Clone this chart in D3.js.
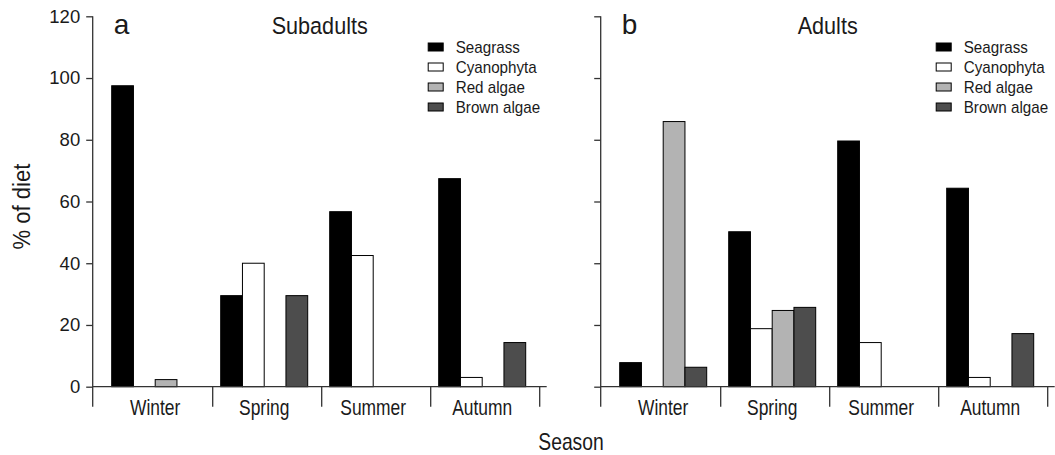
<!DOCTYPE html>
<meta charset="utf-8">

<!-- Load d3.js -->
<script src="https://d3js.org/d3.v7.min.js"></script>

<body style="margin:0">
<svg id="my_dataviz" width="1055" height="455"></svg>

<script>
    // Categories and series
    const seasons = ["Winter", "Spring", "Summer", "Autumn"];
    const foods = ["Seagrass", "Cyanophyta", "Red algae", "Brown algae"];
    const fills = ["#000000", "#ffffff", "#b3b3b3", "#4d4d4d"];
    const yTicks = [0, 20, 40, 60, 80, 100, 120];

    // % of diet, subadults (one value per season)
    const subSeagrass = [97.5, 29.5, 56.7, 67.4];
    const subCyano    = [0, 40, 42.5, 3];
    const subRed      = [2.3, 0, 0, 0];
    const subBrown    = [0, 29.5, 0, 14.3];

    // % of diet, adults
    const adSeagrass = [7.8, 50.2, 79.6, 64.3];
    const adCyano    = [0, 18.8, 14.3, 3];
    const adRed      = [85.9, 24.7, 0, 0];
    const adBrown    = [6.3, 25.7, 0, 17.2];

    const font = "'Liberation Sans', Arial, sans-serif";
    const ink = "#1a1a1a";

    const svg = d3.select("svg").style("font-family", font);

    // the original lettering is a narrow face, so squeeze it a little
    function label(sel, x, y, str, size, sx, anchor) {
        return sel.append("text")
            .attr("transform", `translate(${x},${y}) scale(${sx},1)`)
            .attr("text-anchor", anchor || "start")
            .attr("fill", ink)
            .style("font-size", size + "px")
            .text(str);
    }

    // shared y scale
    const y = d3.scaleLinear().domain([0, 120]).range([386.7, 16.3]);

    function panel(ax, letter, title, series, showLabels) {
        const g = svg.append("g");
        const step = 109;
        const x = d3.scaleBand().domain(seasons).range([ax + 8, ax + 8 + 4 * step]);
        const xi = d3.scaleBand().domain(foods).range([11, step - 11]);

        // bars
        const rows = [];
        seasons.forEach((s, i) => foods.forEach((f, j) => {
            if (series[j][i] > 0) rows.push({season: s, food: f, j: j, v: series[j][i]});
        }));
        g.selectAll("rect.bar")
            .data(rows)
            .join("rect")
                .attr("class", "bar")
                .attr("x", d => x(d.season) + xi(d.food))
                .attr("width", xi.bandwidth())
                .attr("y", d => y(d.v))
                .attr("height", d => y(0) - y(d.v))
                .attr("fill", d => fills[d.j])
                .attr("stroke", "#000")
                .attr("stroke-width", 1);

        // y axis
        const yAxis = d3.axisLeft(y)
            .tickValues(yTicks)
            .tickSize(6.5)
            .tickPadding(6)
            .tickFormat(showLabels ? d3.format("d") : () => "");
        const ya = g.append("g")
            .attr("transform", `translate(${ax},0)`)
            .call(yAxis);
        ya.select(".domain").remove();
        ya.selectAll(".tick line").attr("stroke", "#333").attr("stroke-width", 1.3);
        ya.selectAll(".tick text")
            .attr("fill", ink)
            .style("font-size", "18.5px")
            .style("font-family", font);

        const base = y(0);
        g.append("line")
            .attr("x1", ax).attr("x2", ax)
            .attr("y1", y(120)).attr("y2", base + 20)
            .attr("stroke", "#333").attr("stroke-width", 1.3);

        // x baseline and category separators
        g.append("line")
            .attr("x1", ax).attr("x2", ax + 454)
            .attr("y1", base).attr("y2", base)
            .attr("stroke", "#333").attr("stroke-width", 1.3);
        g.selectAll("line.sep")
            .data(seasons)
            .join("line")
                .attr("class", "sep")
                .attr("x1", d => x(d) + step + 3).attr("x2", d => x(d) + step + 3)
                .attr("y1", base).attr("y2", base + 20)
                .attr("stroke", "#333").attr("stroke-width", 1.3);
        seasons.forEach(s => label(g, x(s) + step / 2, 414.5, s, 21.5, 0.81, "middle"));

        // panel letter and title
        label(g, ax + 21, 34, letter, 28, 1);
        label(g, ax + 227, 34, title, 23.5, 0.92, "middle");

        // legend
        const lg = g.selectAll("g.leg")
            .data(foods)
            .join("g")
                .attr("class", "leg")
                .attr("transform", (d, i) => `translate(${ax + 335.5},${47 + 20 * i})`);
        lg.append("rect")
            .attr("x", 0).attr("y", -4)
            .attr("width", 15).attr("height", 8)
            .attr("fill", (d, i) => fills[i])
            .attr("stroke", "#000").attr("stroke-width", 1);
        lg.each(function(d) { label(d3.select(this), 27.5, 5.5, d, 16, 0.95); });
    }

    panel(92.7, "a", "Subadults", [subSeagrass, subCyano, subRed, subBrown], true);
    panel(600.7, "b", "Adults", [adSeagrass, adCyano, adRed, adBrown], false);

    // axis titles
    svg.append("text")
        .attr("transform", "translate(29.5,206.5) rotate(-90) scale(0.92,1)")
        .attr("text-anchor", "middle")
        .attr("fill", ink)
        .style("font-size", "24px")
        .text("% of diet");
    label(svg, 571, 449.5, "Season", 23, 0.84, "middle");
</script>
</body>
